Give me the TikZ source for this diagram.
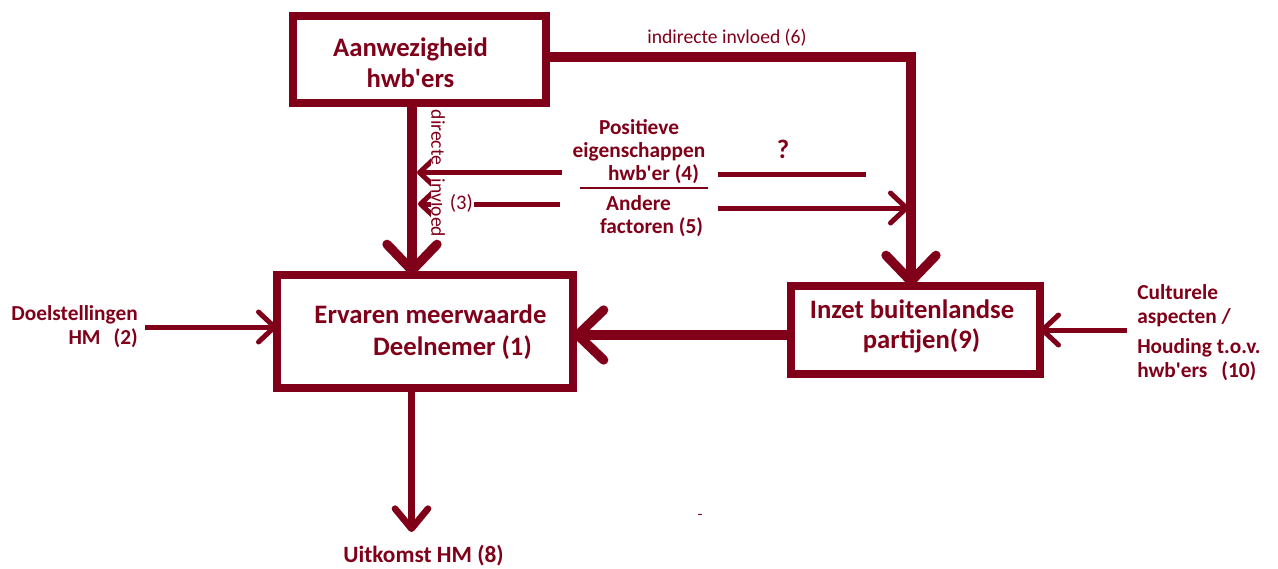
\documentclass[tikz,border=0pt]{standalone}
\usepackage{fontspec}
\setmainfont{Carlito}
\usetikzlibrary{arrows.meta}
\definecolor{wine}{RGB}{128,0,26}
\newcommand{\apo}{\textquotesingle}
\tikzset{
  box/.style={draw=wine, line width=6pt, inner sep=0pt, outer sep=0pt},
  bigtxt/.style={text=wine, align=center, inner sep=0pt},
  midtxt/.style={text=wine, font=\bfseries\fontsize{16}{17.25}\selectfont, align=center, inner sep=0pt},
  thintxt/.style={text=wine, font=\fontsize{14.7}{17}\selectfont, inner sep=0pt},
  bigarrow/.style={draw=wine, line width=7pt, -{Straight Barb[length=19.5pt, width=37.5pt, round]}},
  midarrow/.style={draw=wine, line width=5pt, -{Straight Barb[length=15pt, width=24.75pt, round]}},
  smallarrow/.style={draw=wine, line width=3.75pt, -{Straight Barb[length=12pt, width=22.5pt, round]}},
  plainline/.style={draw=wine, line width=3.75pt},
  sepline/.style={draw=wine, line width=1.1pt},
}
\begin{document}
\begin{tikzpicture}[x=0.75pt, y=-0.75pt]
\fill[white] (0,0) rectangle (1278,568);
\useasboundingbox (0,0) rectangle (1278,568);

% boxes
\node[box, minimum width=189.75pt, minimum height=65.25pt] (A) at (419.5,59.5) {};
\node[box, minimum width=222pt, minimum height=84.75pt] (E) at (425,331.5) {};
\node[box, minimum width=186.75pt, minimum height=66pt] (I) at (915.5,330) {};

\node[bigtxt, font=\bfseries\fontsize{20}{23.25}\selectfont] (At) at (410.5,63.2) {Aanwezigheid\\hwb\apo ers};
\node[bigtxt, font=\bfseries\fontsize{20}{24}\selectfont] (Et) at (430.5,331.9) {Ervaren meerwaarde\\\hspace*{33pt}Deelnemer (1)};
\node[bigtxt, font=\bfseries\fontsize{20}{22.5}\selectfont] (It) at (912,326.7) {Inzet buitenlandse\\\hspace*{14.25pt}partijen(9)};

% outside texts
\node[midtxt, font=\bfseries\fontsize{16}{18}\selectfont, align=right, anchor=east, inner xsep=5.25pt, inner ysep=0pt] (doel) at (145,327) {Doelstellingen\\HM\hspace{9.75pt}(2)};
\node[midtxt, font=\bfseries\fontsize{16}{18}\selectfont, align=left, anchor=west, inner xsep=7.5pt, inner ysep=0pt] (cult) at (1127,333) {Culturele\\aspecten /\\[4.5pt]Houding t.o.v.\\hwb\apo ers\hspace{10.5pt}(10)};
\node[text=wine, font=\bfseries\fontsize{17.5}{20}\selectfont, anchor=north, inner ysep=9.4pt, inner xsep=0pt] (uit) at (423.5,532) {Uitkomst HM (8)};
\node[midtxt] (pos) at (639,151.75) {Positieve\\eigenschappen\\\hspace*{21.75pt}hwb\apo er (4)};
\node[midtxt] (andf) at (638.5,216) {Andere\\\hspace*{19.5pt}factoren (5)};
\node[midtxt, font=\bfseries\fontsize{20}{22}\selectfont, anchor=base] (q) at (783,158) {?};
\node[thintxt, anchor=base] (ind) at (727,43) {indirecte invloed (6)};
\node[thintxt, font=\fontsize{12}{14}\selectfont, anchor=base] (dash) at (700,519) {-};

% main connectors
\draw[bigarrow] ([xshift=-5.625pt]A.south) -- ([xshift=-9.75pt]E.north);
\draw[bigarrow] ([yshift=1.875pt]A.east) -| ([xshift=-3.375pt]I.north);
\coordinate (iw) at ([yshift=-3.75pt]I.west);
\draw[bigarrow] (iw) -- (iw -| E.east);
\draw[smallarrow] (doel.east) -- (doel.east -| E.west);
\draw[smallarrow] (cult.west |- I.east) -- (I.east);
\coordinate (es) at ([xshift=-10.125pt]E.south);
\draw[midarrow] (es) -- (es |- uit.north);

% middle connectors
\coordinate (l4a) at (562,172.5);
\coordinate (l4b) at (417,172.5);
\coordinate (l3a) at (560,204);
\coordinate (l3b) at (418,204);
\coordinate (qa) at (718,174.5);
\coordinate (qb) at (866,174.5);
\coordinate (l5a) at (718,208);
\coordinate (l5b) at (909,208);
\coordinate (sa) at (580,188);
\coordinate (sb) at (708,188);
\draw[smallarrow] (l4a) -- (l4b);
\draw[smallarrow] (l3a) -- (l3b);
\draw[plainline] (qa) -- (qb);
\draw[smallarrow] (l5a) -- (l5b);
\draw[sepline] (sa) -- (sb);

% labels on the direct line
\node[thintxt, rotate=-90, fill=white] (dir1) at (438,137.5) {directe};
\node[thintxt, rotate=-90, fill=white] (dir2) at (438,208) {invloed};
\node[thintxt, font=\fontsize{15.5}{17}\selectfont, fill=white, inner xsep=1pt, inner ysep=1pt] (n3) at (458,203) {\hspace*{5pt}(3)};
\end{tikzpicture}
\end{document}
